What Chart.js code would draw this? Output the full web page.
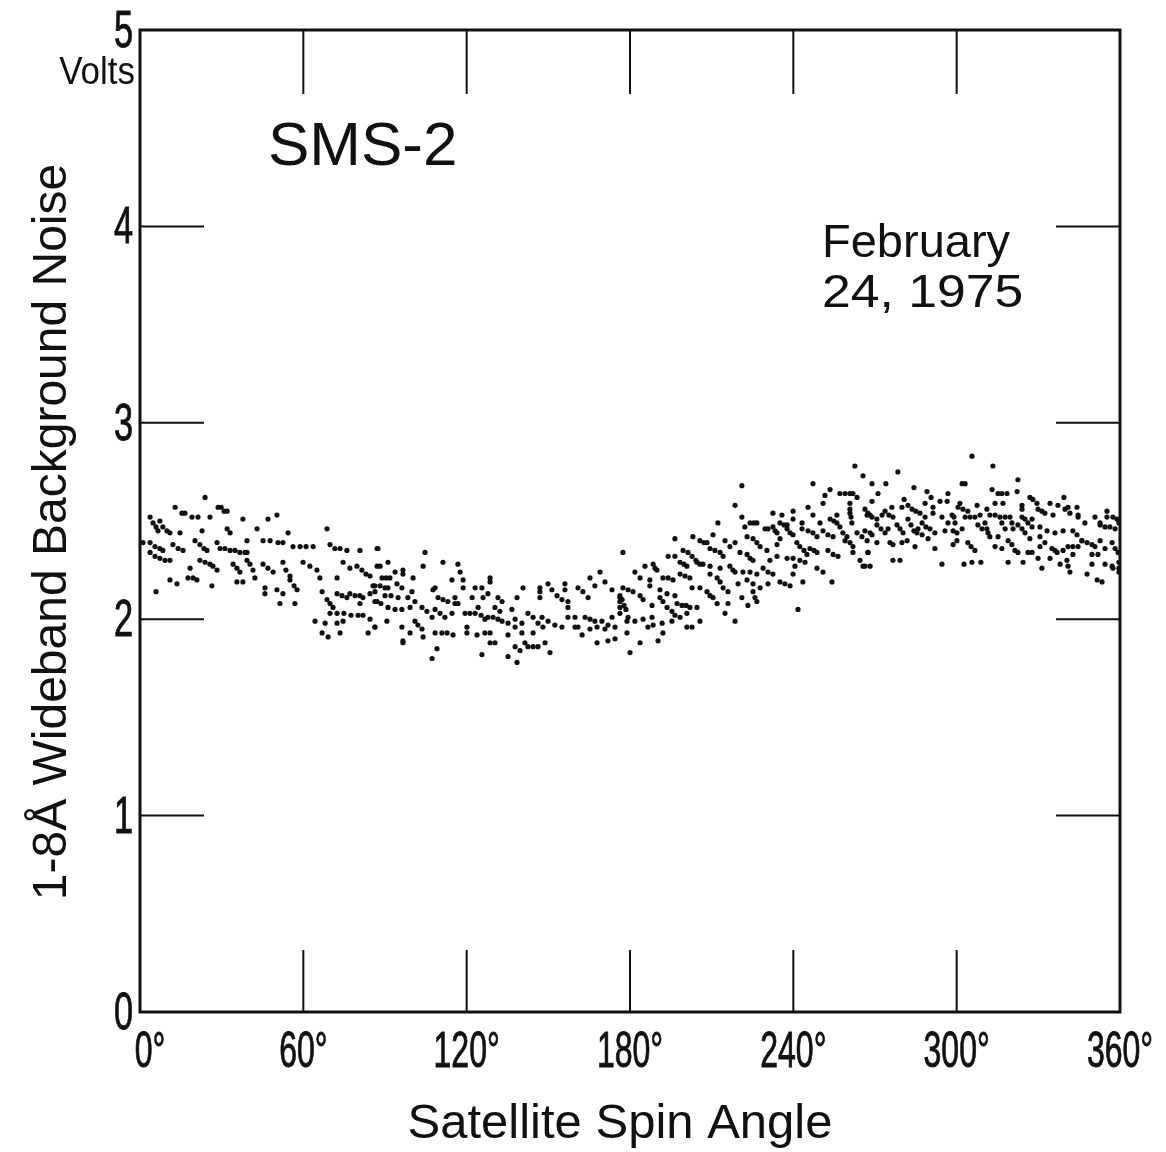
<!DOCTYPE html>
<html>
<head>
<meta charset="utf-8">
<script src="https://cdn.jsdelivr.net/npm/chart.js@4.4.1/dist/chart.umd.min.js"></script>
<style>
  html, body { margin: 0; padding: 0; background: #fff; }
  #wrap { width: 1166px; height: 1152px; }
</style>
</head>
<body>
<div id="wrap"><canvas id="chart" width="1166" height="1152"></canvas></div>
<script>
// Axis ticks
const angleTicks = [0, 60, 120, 180, 240, 300, 360];
const voltTicks = [0, 1, 2, 3, 4, 5];

// Scatter: [spin angle (deg), noise (V)]
const noise0to90 = [
  [23.9,2.62],[28.7,2.57],[29.8,2.57],[30.9,2.55],[32.0,2.55],[12.9,2.57],[50.3,2.53],[47.0,2.51],[37.8,2.51],
  [15.4,2.54],[16.5,2.54],[19.1,2.52],[21.3,2.52],[25.7,2.52],[3.7,2.52],[4.8,2.49],[5.9,2.47],[6.6,2.45],[7.3,2.50],
  [8.4,2.47],[9.9,2.45],[11.0,2.44],[68.7,2.46],[54.4,2.44],[43.0,2.46],[32.0,2.46],[33.1,2.44],[22.8,2.45],[14.7,2.44],
  [1.1,2.39],[3.7,2.39],[5.5,2.37],[7.3,2.36],[8.4,2.35],[12.1,2.38],[14.0,2.36],[15.8,2.35],[20.2,2.40],[22.0,2.38],
  [23.5,2.36],[24.6,2.35],[28.3,2.39],[29.4,2.36],[31.2,2.36],[33.1,2.35],[34.9,2.35],[36.7,2.34],[38.6,2.34],[39.3,2.34],
  [39.3,2.40],[45.2,2.40],[47.8,2.40],[50.7,2.39],[52.5,2.39],[56.2,2.37],[58.8,2.37],[61.0,2.37],[63.6,2.37],
  [69.8,2.38],[71.6,2.36],[73.5,2.36],[76.0,2.35],[80.8,2.35],[87.1,2.36],[3.7,2.34],[5.5,2.32],[7.3,2.31],[9.2,2.30],
  [11.0,2.30],[18.4,2.26],[22.0,2.30],[23.9,2.29],[25.7,2.28],[26.8,2.27],[28.3,2.25],[34.2,2.28],[35.6,2.26],[36.7,2.24],
  [39.3,2.30],[40.4,2.28],[41.5,2.25],[45.2,2.28],[47.0,2.26],[48.9,2.24],[52.5,2.29],[53.6,2.25],[55.1,2.22],[55.1,2.20],
  [56.6,2.17],[57.7,2.15],[59.9,2.29],[62.4,2.27],[65.0,2.25],[66.1,2.21],[72.4,2.21],[74.6,2.29],[77.1,2.26],[79.7,2.27],
  [81.5,2.25],[83.0,2.23],[84.5,2.22],[85.6,2.17],[11.0,2.20],[13.6,2.18],[17.6,2.21],[19.5,2.21],[20.9,2.20],[26.4,2.17],
  [35.6,2.19],[37.8,2.19],[42.2,2.21],[45.9,2.16],[45.9,2.13],[50.3,2.15],[52.5,2.13],[51.4,2.08],[56.9,2.08],[66.9,2.14],
  [68.7,2.10],[69.8,2.08],[70.9,2.06],[72.4,2.13],[74.2,2.12],[76.0,2.11],[77.1,2.13],[79.0,2.12],[80.8,2.12],[81.9,2.11],
  [80.8,2.08],[84.5,2.13],[87.1,2.09],[69.8,2.03],[72.4,2.03],[74.9,2.03],[77.5,2.02],[80.1,2.02],[81.9,2.02],[84.5,2.00],
  [64.3,1.99],[68.0,1.98],[72.4,1.98],[74.6,1.99],[66.9,1.93],[69.1,1.91],[73.5,1.93],[83.8,1.93],[86.3,1.96],[5.9,2.14]
];
const noise90to180 = [
  [87.4,2.36],[104.7,2.34],[104.0,2.27],[91.1,2.29],[87.1,2.27],[88.2,2.27],[111.3,2.29],[116.8,2.28],[177.4,2.34],
  [88.9,2.21],[90.4,2.21],[91.8,2.21],[93.7,2.24],[96.6,2.25],[96.6,2.23],[100.3,2.21],[86.3,2.17],[88.2,2.17],[90.0,2.16],
  [91.1,2.16],[94.4,2.18],[96.2,2.16],[108.4,2.16],[114.6,2.20],[117.6,2.24],[118.7,2.20],[118.7,2.16],[123.1,2.16],
  [125.6,2.16],[128.6,2.21],[128.6,2.19],[127.8,2.13],[86.3,2.14],[90.0,2.12],[92.2,2.12],[94.8,2.11],[98.4,2.11],
  [99.9,2.14],[107.6,2.15],[109.5,2.11],[111.3,2.10],[113.1,2.09],[115.7,2.11],[116.8,2.08],[122.0,2.11],[126.0,2.11],
  [131.5,2.11],[133.0,2.09],[138.5,2.11],[140.7,2.16],[146.9,2.16],[146.9,2.14],[146.9,2.11],[149.9,2.18],[151.3,2.15],
  [153.2,2.12],[155.0,2.10],[156.1,2.18],[156.1,2.15],[157.2,2.09],[157.2,2.06],[160.9,2.16],[162.7,2.14],[164.6,2.11],
  [165.3,2.21],[167.1,2.17],[169.0,2.24],[170.8,2.19],[173.4,2.15],[176.3,2.11],[176.3,2.09],[176.3,2.06],[86.3,2.09],
  [88.5,2.08],[91.1,2.06],[93.7,2.05],[96.2,2.05],[99.2,2.06],[101.0,2.09],[103.6,2.06],[105.4,2.04],[107.3,2.01],
  [108.4,2.05],[110.2,2.03],[112.0,2.01],[114.6,2.03],[115.7,2.08],[119.4,2.03],[121.2,2.03],[123.1,2.03],[124.2,2.06],
  [125.3,2.02],[126.7,2.00],[127.8,2.01],[129.7,2.01],[131.5,2.00],[130.4,2.06],[132.2,2.04],[133.0,1.99],[135.2,1.98],
  [137.8,1.96],[136.6,2.05],[137.8,2.00],[140.3,1.98],[142.5,2.03],[144.4,2.01],[146.2,1.98],[147.7,2.01],[149.9,1.99],
  [152.4,1.97],[155.0,1.96],[157.2,2.01],[159.8,2.01],[160.9,1.96],[163.5,2.01],[165.3,2.00],[167.1,1.99],[169.7,1.99],
  [171.9,1.97],[173.4,2.01],[176.3,2.03],[86.3,1.96],[90.7,1.99],[96.2,1.96],[99.2,1.93],[101.0,1.99],[102.1,1.97],
  [103.6,1.95],[104.0,1.91],[108.4,1.93],[110.9,1.93],[112.8,1.93],[115.0,1.92],[120.1,1.96],[120.1,1.93],[123.8,1.92],
  [126.7,1.93],[128.6,1.93],[128.6,1.88],[130.4,1.88],[135.2,1.92],[140.3,1.93],[144.4,1.93],[148.0,1.96],[159.8,1.96],
  [162.4,1.92],[165.3,1.95],[167.9,1.96],[170.8,1.95],[174.5,1.96],[171.9,1.89],[174.5,1.90],[167.9,1.88],[96.6,1.89],
  [96.6,1.88],[109.1,1.85],[107.3,1.80],[125.6,1.82],[135.2,1.81],[137.8,1.86],[139.6,1.84],[138.5,1.78],[141.4,1.88],
  [142.5,1.86],[144.4,1.86],[146.2,1.86],[148.8,1.88],[150.6,1.83]
];
const noise180to270 = [
  [262.6,2.78],[265.6,2.73],[247.2,2.69],[221.1,2.68],[253.5,2.66],[251.6,2.63],[257.1,2.64],[259.0,2.64],[260.8,2.64],
  [261.9,2.64],[263.4,2.62],[260.8,2.59],[260.8,2.56],[260.8,2.54],[261.2,2.52],[261.5,2.49],[250.9,2.59],[218.6,2.58],
  [245.4,2.57],[232.5,2.54],[235.8,2.53],[239.9,2.55],[247.2,2.53],[212.3,2.49],[221.1,2.52],[224.1,2.49],[225.5,2.49],
  [226.6,2.49],[235.1,2.49],[236.6,2.48],[237.7,2.48],[239.9,2.51],[243.2,2.49],[249.8,2.49],[253.5,2.51],[254.9,2.50],
  [256.0,2.49],[256.0,2.53],[267.1,2.53],[268.2,2.53],[222.2,2.47],[229.6,2.46],[230.7,2.46],[232.5,2.47],[233.3,2.45],
  [234.0,2.44],[237.7,2.46],[238.8,2.44],[239.9,2.43],[243.2,2.46],[245.4,2.45],[247.2,2.44],[250.9,2.45],[252.7,2.43],
  [254.6,2.42],[257.1,2.47],[258.2,2.44],[259.7,2.42],[260.8,2.39],[261.9,2.37],[259.0,2.40],[263.4,2.44],[265.2,2.42],
  [267.1,2.40],[196.5,2.41],[203.1,2.42],[210.5,2.43],[205.7,2.40],[207.2,2.39],[208.3,2.39],[214.9,2.40],[218.6,2.39],
  [223.0,2.42],[225.2,2.41],[226.6,2.39],[227.8,2.37],[230.3,2.35],[234.0,2.38],[235.1,2.41],[241.3,2.39],[242.4,2.37],
  [243.9,2.35],[245.0,2.33],[246.1,2.36],[247.6,2.35],[248.7,2.34],[248.7,2.42],[252.7,2.35],[254.6,2.33],[256.4,2.32],
  [261.9,2.34],[264.5,2.30],[267.4,2.34],[265.6,2.27],[199.5,2.35],[201.3,2.34],[202.8,2.32],[204.2,2.30],[205.7,2.28],
  [209.4,2.36],[211.2,2.35],[213.1,2.34],[214.2,2.32],[216.7,2.37],[220.4,2.34],[223.0,2.33],[224.1,2.31],[225.2,2.30],
  [231.4,2.30],[234.0,2.32],[237.7,2.31],[239.9,2.31],[242.4,2.30],[244.3,2.29],[194.0,2.32],[196.5,2.32],[198.4,2.29],
  [199.8,2.28],[200.9,2.27],[188.5,2.28],[189.2,2.26],[189.9,2.25],[185.5,2.27],[181.8,2.24],[204.6,2.29],[206.8,2.28],
  [209.4,2.27],[213.1,2.26],[216.7,2.27],[217.8,2.25],[218.6,2.24],[221.5,2.24],[224.1,2.24],[226.6,2.23],[228.9,2.26],
  [230.7,2.24],[232.5,2.23],[240.6,2.27],[239.9,2.23],[248.7,2.26],[250.9,2.24],[192.1,2.21],[194.0,2.21],[195.8,2.20],
  [198.4,2.23],[200.2,2.22],[202.0,2.21],[209.4,2.23],[212.0,2.21],[213.1,2.19],[214.2,2.16],[219.7,2.18],[223.0,2.20],
  [225.2,2.18],[227.8,2.16],[230.7,2.18],[235.1,2.19],[236.9,2.18],[238.8,2.17],[243.5,2.19],[254.2,2.19],[187.3,2.20],
  [187.3,2.17],[183.7,2.21],[177.4,2.16],[179.3,2.15],[181.1,2.14],[183.7,2.12],[191.0,2.15],[193.6,2.13],[196.5,2.12],
  [202.8,2.16],[205.7,2.16],[208.3,2.14],[209.4,2.12],[210.5,2.11],[216.0,2.14],[221.1,2.11],[225.2,2.14],[225.9,2.11],
  [226.6,2.09],[212.0,2.08],[216.0,2.08],[223.3,2.07],[176.3,2.12],[177.1,2.10],[177.8,2.07],[178.5,2.05],[179.3,2.01],
  [184.8,2.10],[188.1,2.07],[191.0,2.11],[192.1,2.09],[193.6,2.06],[197.3,2.08],[199.1,2.07],[200.6,2.07],[202.0,2.06],
  [204.6,2.06],[195.4,2.04],[196.5,2.02],[198.4,2.01],[200.9,2.03],[184.8,2.00],[188.1,2.01],[178.9,1.99],[181.8,1.99],
  [191.8,1.98],[195.4,1.99],[200.9,1.96],[202.8,1.96],[205.7,1.99],[214.9,2.03],[218.6,1.99],[241.7,2.05],[178.9,1.93],
  [183.7,1.88],[190.3,1.89],[192.1,1.93],[180.0,1.83],[186.6,1.96],[188.5,1.97]
];
const noise270to360 = [
  [305.6,2.83],[313.3,2.78],[278.4,2.75],[322.5,2.71],[268.9,2.69],[274.0,2.69],[302.0,2.69],[303.1,2.69],[284.3,2.67],
  [289.1,2.65],[290.6,2.62],[296.8,2.64],[313.0,2.66],[322.2,2.65],[315.2,2.64],[316.6,2.64],[318.5,2.64],[271.1,2.64],
  [268.9,2.60],[280.7,2.61],[282.1,2.58],[288.4,2.59],[293.9,2.60],[296.5,2.60],[301.2,2.59],[307.5,2.58],[314.1,2.59],
  [317.0,2.59],[324.0,2.58],[324.0,2.56],[326.9,2.62],[328.0,2.61],[329.5,2.59],[334.3,2.59],[337.2,2.58],[339.4,2.62],
  [340.9,2.57],[344.2,2.57],[276.2,2.57],[279.9,2.57],[291.3,2.57],[291.3,2.54],[266.3,2.56],[267.4,2.54],[268.9,2.52],
  [270.7,2.51],[272.6,2.53],[273.7,2.55],[275.1,2.53],[276.6,2.52],[283.6,2.56],[285.0,2.55],[286.5,2.54],[288.4,2.52],
  [294.6,2.52],[298.3,2.53],[299.0,2.52],[299.4,2.49],[300.5,2.57],[302.3,2.56],[304.1,2.55],[303.1,2.52],[304.9,2.52],
  [306.7,2.52],[308.6,2.53],[311.1,2.56],[312.2,2.53],[314.1,2.53],[315.9,2.52],[317.8,2.52],[319.6,2.52],[324.0,2.52],
  [325.1,2.51],[326.2,2.49],[329.9,2.56],[331.3,2.55],[332.4,2.54],[335.4,2.53],[339.8,2.56],[341.6,2.54],[344.6,2.53],
  [344.6,2.52],[350.8,2.52],[355.2,2.55],[355.2,2.52],[357.4,2.52],[358.9,2.51],[359.6,2.49],[266.3,2.45],[268.2,2.44],
  [268.9,2.43],[270.7,2.48],[272.2,2.46],[273.7,2.44],[274.8,2.46],[278.1,2.48],[279.2,2.46],[280.3,2.44],[282.1,2.51],
  [283.2,2.48],[284.3,2.45],[285.8,2.46],[287.3,2.49],[288.7,2.47],[290.2,2.46],[292.0,2.44],[295.7,2.45],[296.8,2.49],
  [298.7,2.45],[300.1,2.44],[302.0,2.46],[307.8,2.48],[309.3,2.46],[310.4,2.49],[311.1,2.46],[311.5,2.44],[312.2,2.42],
  [316.6,2.49],[317.8,2.46],[320.3,2.49],[320.7,2.46],[322.5,2.48],[324.0,2.46],[325.1,2.44],[327.7,2.51],[327.7,2.47],
  [330.6,2.47],[333.2,2.45],[336.1,2.44],[339.1,2.45],[342.7,2.45],[344.2,2.43],[346.0,2.40],[347.1,2.49],[352.7,2.49],
  [352.7,2.48],[354.5,2.47],[356.3,2.47],[358.2,2.46],[267.4,2.34],[270.7,2.39],[275.5,2.39],[276.6,2.38],[279.9,2.39],
  [281.8,2.40],[284.7,2.37],[285.4,2.44],[287.3,2.43],[289.5,2.41],[292.0,2.36],[298.7,2.38],[300.1,2.40],[304.1,2.39],
  [305.3,2.37],[306.7,2.35],[314.1,2.37],[316.6,2.36],[315.2,2.42],[318.9,2.40],[320.3,2.38],[321.4,2.35],[322.5,2.34],
  [326.9,2.41],[326.2,2.34],[330.6,2.42],[330.6,2.37],[332.4,2.39],[335.0,2.36],[336.1,2.35],[336.9,2.34],[339.1,2.35],
  [340.9,2.37],[342.7,2.37],[344.6,2.37],[346.0,2.40],[347.9,2.39],[349.7,2.38],[350.8,2.37],[352.7,2.40],[354.5,2.36],
  [357.1,2.39],[358.2,2.36],[359.3,2.34],[266.3,2.27],[268.2,2.27],[276.6,2.30],[279.2,2.30],[294.6,2.28],[302.7,2.28],
  [305.6,2.29],[308.9,2.29],[318.9,2.29],[324.4,2.29],[327.7,2.34],[329.9,2.31],[331.3,2.26],[334.3,2.31],[338.0,2.28],
  [340.5,2.30],[340.9,2.27],[341.6,2.24],[342.7,2.33],[349.7,2.33],[349.7,2.28],[351.9,2.33],[354.5,2.28],[357.1,2.27],
  [357.4,2.26],[359.6,2.29],[359.6,2.26],[359.6,2.24],[347.9,2.23],[351.6,2.20],[353.4,2.19]
];

const toPoints = arr => arr.map(([a, v]) => ({ x: a, y: v }));
const allNoise = [].concat(noise0to90, noise90to180, noise180to270, noise270to360);

const INK = '#111';

// stroke > 0 thickens narrow lettering a little
function drawText(ctx, text, x, y, size, sx, align, stroke) {
  ctx.save();
  ctx.translate(x, y);
  ctx.scale(sx, 1);
  ctx.font = size + 'px "Liberation Sans", Arial, sans-serif';
  ctx.textAlign = align;
  ctx.textBaseline = 'alphabetic';
  ctx.fillStyle = INK;
  ctx.fillText(text, 0, 0);
  if (stroke) {
    ctx.strokeStyle = INK;
    ctx.lineWidth = stroke;
    ctx.strokeText(text, 0, 0);
  }
  ctx.restore();
}

// frame, inward ticks and the lettering of the old figure
const framePlugin = {
  id: 'frame',
  beforeDraw(chart) {
    const ctx = chart.ctx;
    ctx.save();
    ctx.fillStyle = '#fff';
    ctx.fillRect(0, 0, chart.width, chart.height);
    ctx.restore();
  },
  afterDatasetsDraw(chart) {
    const { ctx, chartArea: a, scales: { x, y } } = chart;
    ctx.save();
    ctx.strokeStyle = INK;
    ctx.lineWidth = 3;
    ctx.strokeRect(a.left, a.top, a.right - a.left, a.bottom - a.top);

    ctx.lineWidth = 2;
    ctx.beginPath();
    voltTicks.forEach(v => {
      if (v === 0 || v === 5) return;
      const py = y.getPixelForValue(v);
      ctx.moveTo(a.left, py); ctx.lineTo(a.left + 64, py);
      ctx.moveTo(a.right - 64, py); ctx.lineTo(a.right, py);
    });
    angleTicks.forEach(d => {
      if (d === 0 || d === 360) return;
      const px = x.getPixelForValue(d);
      ctx.moveTo(px, a.bottom); ctx.lineTo(px, a.bottom - 62);
      ctx.moveTo(px, a.top); ctx.lineTo(px, a.top + 64);
    });
    ctx.stroke();
    ctx.restore();

    // tick labels, narrow lettering
    angleTicks.forEach(d => {
      let px = x.getPixelForValue(d);
      if (d === 0) px += 10;
      drawText(ctx, d + '°', px, a.bottom + 55, 50, 0.64, 'center', 0.9);
    });
    voltTicks.forEach(v => {
      drawText(ctx, String(v), a.left - 7, y.getPixelForValue(v) + 17, 52, 0.66, 'right', 0.9);
    });
    drawText(ctx, 'Volts', a.left - 5, 84, 38, 0.92, 'right');

    // annotations
    drawText(ctx, 'SMS-2', 268, 165, 62, 1, 'left');
    drawText(ctx, 'February', 822, 257, 47, 1, 'left');
    drawText(ctx, '24, 1975', 822, 307, 47, 1.1, 'left');

    // axis titles
    drawText(ctx, 'Satellite Spin Angle', 620, 1138, 49, 1, 'center');
    ctx.save();
    ctx.translate(66, 532);
    ctx.rotate(-Math.PI / 2);
    drawText(ctx, '1-8Å Wideband Background Noise', 0, 0, 48, 1, 'center');
    ctx.restore();
  }
};

new Chart(document.getElementById('chart'), {
  type: 'scatter',
  data: {
    datasets: [{
      label: 'Background noise',
      data: toPoints(allNoise),
      backgroundColor: INK,
      borderWidth: 0,
      pointRadius: 2.6,
      pointHoverRadius: 2.6
    }]
  },
  options: {
    responsive: false,
    animation: false,
    devicePixelRatio: 1,
    layout: { padding: { left: 140, right: 46, top: 30, bottom: 140 } },
    plugins: { legend: { display: false }, tooltip: { enabled: false } },
    scales: {
      x: { type: 'linear', min: 0, max: 360, display: false },
      y: { type: 'linear', min: 0, max: 5, display: false }
    }
  },
  plugins: [framePlugin]
});
</script>
</body>
</html>
